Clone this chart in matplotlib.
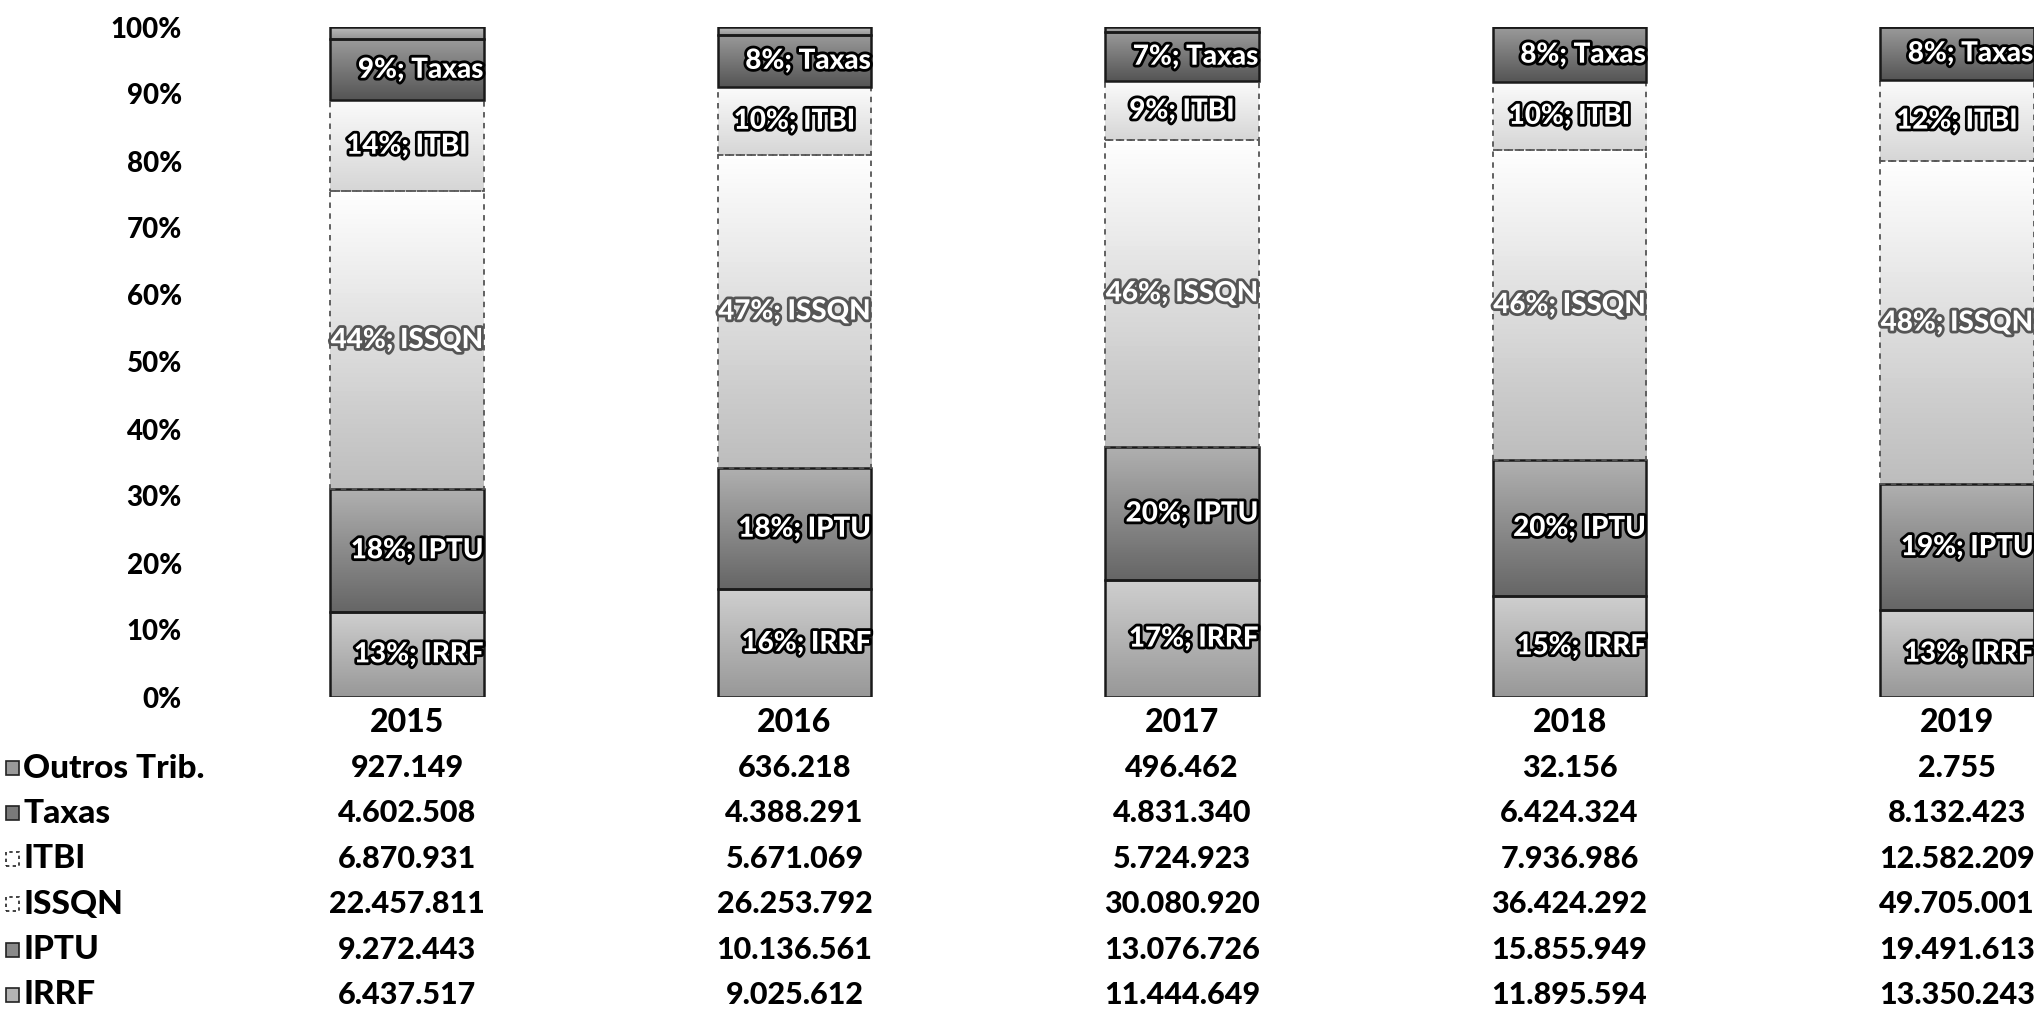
import numpy as np
import matplotlib
matplotlib.use("Agg")
import matplotlib.pyplot as plt
import matplotlib.patheffects as pe
from matplotlib.colors import LinearSegmentedColormap
from matplotlib.patches import Rectangle
from matplotlib.transforms import blended_transform_factory

plt.rcParams['font.family'] = ['Lato', 'DejaVu Sans']
plt.rcParams['font.weight'] = 'black'

years  = ["2015", "2016", "2017", "2018", "2019"]
series = ["IRRF", "IPTU", "ISSQN", "ITBI", "Taxas", "Outros Trib."]   # bottom -> top
irrf   = [6437517, 9025612, 11444649, 11895594, 13350243]
iptu   = [9272443, 10136561, 13076726, 15855949, 19491613]
issqn  = [22457811, 26253792, 30080920, 36424292, 49705001]
itbi   = [6870931, 5671069, 5724923, 7936986, 12582209]
taxas  = [4602508, 4388291, 4831340, 6424324, 8132423]
outros = [927149, 636218, 496462, 32156, 2755]
table_order = ["Outros Trib.", "Taxas", "ITBI", "ISSQN", "IPTU", "IRRF"]

values = dict(zip(series, [irrf, iptu, issqn, itbi, taxas, outros]))
# gradient bottom / top greys per series
grad = {"IRRF": ("#989898", "#cfcfcf"),
        "IPTU": ("#666666", "#b0b0b0"),
        "ISSQN": ("#bdbdbd", "#ffffff"),
        "ITBI": ("#d6d6d6", "#fbfbfb"),
        "Taxas": ("#555555", "#9a9a9a"),
        "Outros Trib.": ("#959595", "#c0c0c0")}
labelled = ["IRRF", "IPTU", "ISSQN", "ITBI", "Taxas"]

W, H = 2034, 1009
fig = plt.figure(figsize=(W / 100, H / 100), dpi=100)
ax = fig.add_axes([200 / W, 1 - 697 / H, 1 - 200 / W, 670 / H])

x = np.arange(len(years))
totals = np.sum([values[s] for s in series], axis=0)
bw = 0.395
bottom = np.zeros(len(years))
for s in series:
    share = np.array(values[s]) / totals
    dashed = s in ("ITBI", "ISSQN")
    bars = ax.bar(x, share, bottom=bottom, width=bw, color="none",
                  edgecolor="#555555" if dashed else "#1a1a1a",
                  linewidth=1.3 if dashed else 1.8,
                  linestyle=(0, (3, 3)) if dashed else "-", zorder=3)
    cmap = LinearSegmentedColormap.from_list(s, [grad[s][0], grad[s][1]])
    for p in bars:
        im = ax.imshow(np.linspace(1, 0, 64).reshape(-1, 1), cmap=cmap, vmin=0, vmax=1,
                       extent=(p.get_x(), p.get_x() + p.get_width(),
                               p.get_y(), p.get_y() + p.get_height()),
                       aspect="auto", zorder=2)
        im.set_clip_path(p)
    if s in labelled:
        for i, p in enumerate(bars):
            txt = f"{round(share[i] * 100):.0f}%; {s}"
            if s == "ITBI":
                xx, ha = p.get_x() + p.get_width() / 2, "center"
            else:
                xx, ha = p.get_x() + p.get_width(), "right"
            stroke = "#555555" if s == "ISSQN" else "black"
            ax.text(xx, p.get_y() + p.get_height() / 2, txt, ha=ha, va="center",
                    fontsize=20, color="white", zorder=5, clip_on=False,
                    path_effects=[pe.withStroke(linewidth=4, foreground=stroke)])
    bottom += share

ax.set_xlim((200 - 407) / 387.5, (2034 - 407) / 387.5)
ax.set_ylim(0, 1)
ax.set_yticks(np.linspace(0, 1, 11))
ax.set_yticklabels([f"{v}%" for v in range(0, 101, 10)], fontsize=20)
ax.tick_params(axis="y", length=0, pad=13)
ax.set_xticks([])
for sp in ax.spines.values():
    sp.set_visible(False)

# data table below
tr = blended_transform_factory(ax.transData, fig.transFigure)
year_y = 1 - 722 / H
for i, yr in enumerate(years):
    fig.text(x[i], year_y, yr, transform=tr, ha="center", va="center", fontsize=23)

row_y0, row_dy = 768, 45.4
swatch = {"Outros Trib.": "#9a9a9a", "Taxas": "#7a7a7a", "ITBI": "white",
          "ISSQN": "white", "IPTU": "#8a8a8a", "IRRF": "#b4b4b4"}
for r, s in enumerate(table_order):
    yc = 1 - (row_y0 + r * row_dy) / H
    dashed = s in ("ITBI", "ISSQN")
    fig.add_artist(Rectangle((6 / W, yc - 7 / H), 13 / W, 14 / H, transform=fig.transFigure,
                             facecolor=swatch[s], edgecolor="#222222",
                             linestyle=(0, (2, 2)) if dashed else "-", linewidth=1.2))
    fig.text(23 / W, yc, s, ha="left", va="center", fontsize=24)
    for i, v in enumerate(values[s]):
        fig.text(x[i], yc, f"{v:,}".replace(",", "."), transform=tr,
                 ha="center", va="center", fontsize=22)

fig.savefig("out.png", dpi=100)
